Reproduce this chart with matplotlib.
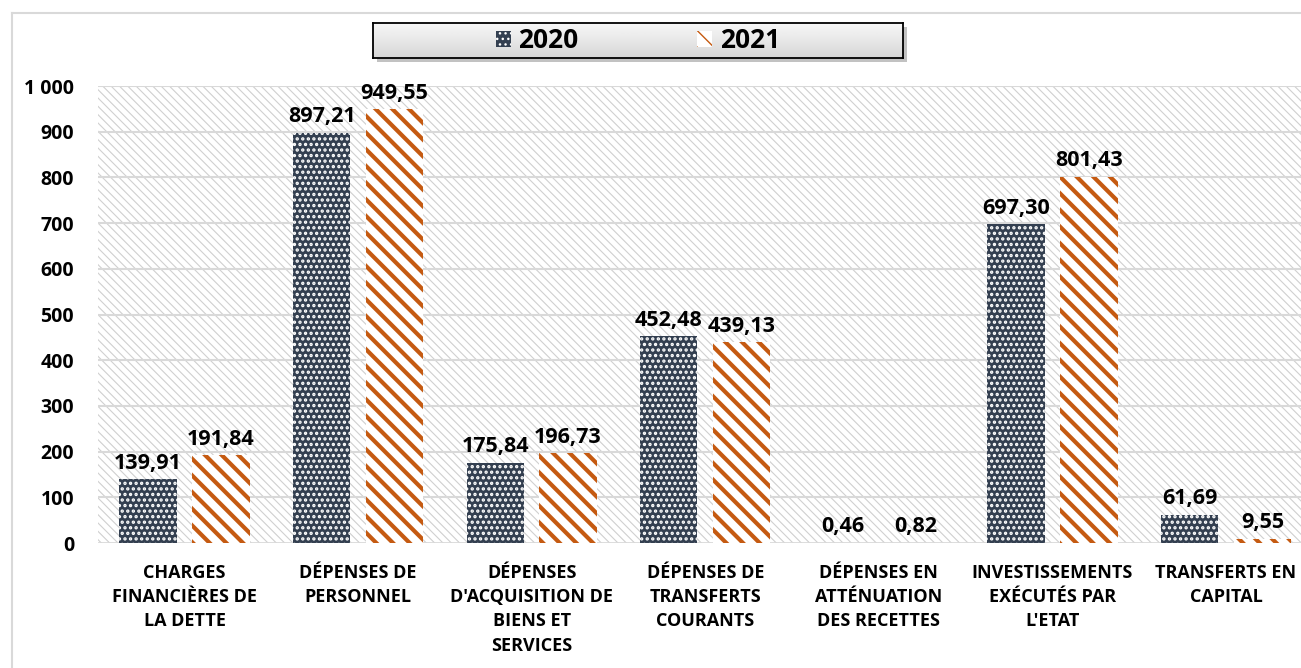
import numpy as np
import matplotlib
matplotlib.use("Agg")
import matplotlib.pyplot as plt
from matplotlib.patches import Rectangle, Patch
from matplotlib.lines import Line2D

# données (milliards)
categories = [
    "CHARGES\nFINANCIÈRES DE\nLA DETTE",
    "DÉPENSES DE\nPERSONNEL",
    "DÉPENSES\nD'ACQUISITION DE\nBIENS ET\nSERVICES",
    "DÉPENSES DE\nTRANSFERTS\nCOURANTS",
    "DÉPENSES EN\nATTÉNUATION\nDES RECETTES",
    "INVESTISSEMENTS\nEXÉCUTÉS PAR\nL'ETAT",
    "TRANSFERTS EN\nCAPITAL",
]
values_2020 = [139.91, 897.21, 175.84, 452.48, 0.46, 697.30, 61.69]
values_2021 = [191.84, 949.55, 196.73, 439.13, 0.82, 801.43, 9.55]
series_names = ["2020", "2021"]
y_ticks = [0, 100, 200, 300, 400, 500, 600, 700, 800, 900, 1000]

NAVY = "#333F50"
ORANGE = "#C55A11"
GRID = "#D9D9D9"
FONT = "Open Sans"

plt.rcParams["font.family"] = [FONT, "DejaVu Sans"]
plt.rcParams["font.weight"] = "bold"

fig = plt.figure(figsize=(13.01, 6.68), dpi=100)

# cadre de la figure (gauche et haut)
fig.add_artist(Line2D([12 / 1301, 12 / 1301], [0, 1 - 13 / 668], color=GRID, lw=1.5))
fig.add_artist(Line2D([12 / 1301, 1], [1 - 13 / 668, 1 - 13 / 668], color=GRID, lw=1.5))

ax = fig.add_axes([0.0751, 0.1871, 0.934, 0.6841])
ax.set_xlim(-0.5, len(categories) - 0.5)
ax.set_ylim(0, 1000)

# fond hachuré
with plt.rc_context({"hatch.linewidth": 0.8}):
    bg = Rectangle((0, 0), 1, 1, transform=ax.transAxes, facecolor="white",
                   edgecolor="#D0D0D0", hatch="\\\\\\\\", lw=0, zorder=0)
    if hasattr(bg, "set_hatch_linewidth"):
        bg.set_hatch_linewidth(0.8)
    ax.add_patch(bg)

for t in y_ticks[1:]:
    ax.axhline(t, color=GRID, lw=1.5, zorder=1)
ax.axhline(0, color=GRID, lw=2, zorder=1)

x = np.arange(len(categories))
w = 0.33
off = 0.21

with plt.rc_context({"hatch.linewidth": 1.6}):
    b1 = ax.bar(x - off, values_2020, w, color=NAVY, edgecolor="white",
                hatch="...", lw=0, zorder=2)
    for p in b1:
        if hasattr(p, "set_hatch_linewidth"):
            p.set_hatch_linewidth(1.6)
with plt.rc_context({"hatch.linewidth": 3.0}):
    b2 = ax.bar(x + off, values_2021, w, color="white", edgecolor=ORANGE,
                hatch="\\\\", lw=0, zorder=2)
    for p in b2:
        if hasattr(p, "set_hatch_linewidth"):
            p.set_hatch_linewidth(3.0)

def fmt(v):
    return f"{v:.2f}".replace(".", ",")

for bars, vals in ((b1, values_2020), (b2, values_2021)):
    for p, v in zip(bars, vals):
        ax.annotate(fmt(v), (p.get_x() + p.get_width() / 2, v),
                    xytext=(0, 4), textcoords="offset points",
                    ha="center", va="bottom", fontsize=15.5,
                    fontweight="bold", zorder=5)

ax.set_yticks(y_ticks)
ax.set_yticklabels([f"{t:,}".replace(",", " ") for t in y_ticks],
                   fontsize=14, fontweight="bold")
ax.set_xticks(x)
ax.set_xticklabels(categories, fontsize=13, fontweight="bold", linespacing=1.45)
ax.tick_params(axis="both", length=0)
ax.tick_params(axis="x", pad=15)
ax.tick_params(axis="y", pad=17)
for s in ax.spines.values():
    s.set_visible(False)

# légende avec cadre ombré
lx0, ly0, lw_, lh = 373 / 1301, 1 - 58 / 668, 530 / 1301, 35 / 668
shadow = Rectangle((lx0 + 4 / 1301, ly0 - 4 / 668), lw_, lh, transform=fig.transFigure,
                   facecolor="#9A9A9A", edgecolor="none", alpha=0.6, zorder=3)
fig.add_artist(shadow)
lax = fig.add_axes([lx0, ly0, lw_, lh], zorder=4)
grad = np.linspace(0.97, 0.84, 50).reshape(-1, 1)
lax.imshow(grad, aspect="auto", cmap="gray", vmin=0, vmax=1, extent=[0, 1, 0, 1])
lax.set_xticks([])
lax.set_yticks([])
for s in lax.spines.values():
    s.set_color("black")
    s.set_linewidth(1.3)

handles = [
    Patch(facecolor=NAVY, edgecolor="white", hatch="...", lw=0),
    Patch(facecolor="white", edgecolor=ORANGE, hatch="\\\\", lw=0),
]
leg = lax.legend(handles, series_names, loc="center", ncol=2, frameon=False,
                 prop={"family": FONT, "weight": "bold", "size": 19},
                 handlelength=0.55, handleheight=0.55, handletextpad=0.3,
                 columnspacing=4.5, borderaxespad=0)

fig.savefig("out.png", dpi=100)
